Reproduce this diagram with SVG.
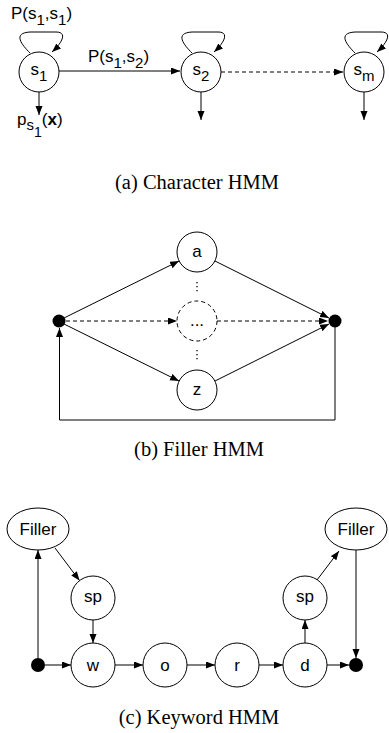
<svg xmlns="http://www.w3.org/2000/svg" width="389" height="733" viewBox="0 0 389 733">
  <defs>
    <marker id="arrow" markerUnits="userSpaceOnUse" markerWidth="10" markerHeight="8" refX="9" refY="3.5" orient="auto">
      <path d="M0,0 L9,3.5 L0,7 z" fill="#000"/>
    </marker>
  </defs>
  <style>
    .node { fill: #fff; stroke: #000; stroke-width: 1; }
    .dnode { fill: #fff; stroke: #000; stroke-width: 1; stroke-dasharray: 4 3; }
    .dot { fill: #000; stroke: none; }
    .edge { fill: none; stroke: #000; stroke-width: 1; marker-end: url(#arrow); }
    .dashed { fill: none; stroke: #000; stroke-width: 1; stroke-dasharray: 4 3; marker-end: url(#arrow); }
    .dotted { fill: none; stroke: #000; stroke-width: 1.3; stroke-dasharray: 1.3 2.7; }
    .lbl { font-family: "Liberation Sans", Arial, sans-serif; font-size: 17px; fill: #000; text-anchor: middle; }
    .elbl { font-family: "Liberation Sans", Arial, sans-serif; font-size: 17px; fill: #000; }
    .sub { font-size: 15px; }
    .sub2 { font-size: 14px; }
    .cap { font-family: "Liberation Serif", "Times New Roman", serif; font-size: 20.5px; fill: #000; text-anchor: middle; }
  </style>

  <!-- (a) Character HMM -->
  <g id="a-s1">
    <circle class="node" cx="39" cy="72" r="20"/>
    <text class="lbl" x="39" y="75">s<tspan class="sub" dy="6">1</tspan></text>
  </g>
  <g id="a-s2">
    <circle class="node" cx="201" cy="72" r="20"/>
    <text class="lbl" x="201" y="75">s<tspan class="sub" dy="6">2</tspan></text>
  </g>
  <g id="a-sm">
    <circle class="node" cx="364" cy="72" r="20"/>
    <text class="lbl" x="364" y="75">s<tspan class="sub" dy="6">m</tspan></text>
  </g>
  <g id="a-connectors">
    <path class="edge" d="M30,53 C22,45 12,33 30,32 L56,32 C68,32 62,43 52,52"/>
    <path class="edge" d="M192,53 C184,45 174,33 192,32 L218,32 C230,32 224,43 214,52"/>
    <path class="edge" d="M355,53 C347,45 337,33 355,32 L381,32 C393,32 387,43 377,52"/>
    <path class="edge" d="M59,71 H180"/>
    <path class="dashed" d="M221,72 H343"/>
    <path class="edge" d="M39,92 V115"/>
    <path class="edge" d="M201,92 V120"/>
    <path class="edge" d="M364,92 V120"/>
  </g>
  <g id="a-labels">
    <text class="elbl" x="11" y="19">P(s<tspan class="sub" dy="6">1</tspan><tspan dy="-6">,s</tspan><tspan class="sub" dy="6">1</tspan><tspan dy="-6">)</tspan></text>
    <text class="elbl" x="88" y="62">P(s<tspan class="sub" dy="6">1</tspan><tspan dy="-6">,s</tspan><tspan class="sub" dy="6">2</tspan><tspan dy="-6">)</tspan></text>
    <text class="elbl" x="17" y="125">p<tspan class="sub" dy="5">s</tspan><tspan class="sub2" dy="7">1</tspan><tspan dy="-12">(</tspan><tspan font-weight="bold">x</tspan>)</text>
  </g>
  <text class="cap" x="197" y="189">(a) Character HMM</text>

  <!-- (b) Filler HMM -->
  <g id="b-start"><circle class="dot" cx="59" cy="321" r="6.5"/></g>
  <g id="b-end"><circle class="dot" cx="335" cy="321" r="6.5"/></g>
  <g id="b-a">
    <circle class="node" cx="197" cy="252" r="20"/>
    <text class="lbl" x="197" y="257">a</text>
  </g>
  <g id="b-mid">
    <circle class="dnode" cx="197" cy="321" r="20"/>
    <text class="lbl" x="197" y="326">...</text>
  </g>
  <g id="b-z">
    <circle class="node" cx="197" cy="390" r="20"/>
    <text class="lbl" x="197" y="395">z</text>
  </g>
  <g id="b-connectors">
    <path class="edge" d="M64,318 L179,261"/>
    <path class="edge" d="M64,324 L179,381"/>
    <path class="dashed" d="M66,321 H177"/>
    <path class="edge" d="M215,261 L329,318"/>
    <path class="edge" d="M215,381 L329,324"/>
    <path class="dashed" d="M217,321 H328"/>
    <path class="edge" d="M335,327 V420 H59.5 V328"/>
    <path class="dotted" d="M197,282 V293"/>
    <path class="dotted" d="M197,350 V361"/>
  </g>
  <text class="cap" x="199" y="456">(b) Filler HMM</text>

  <!-- (c) Keyword HMM -->
  <g id="c-start"><circle class="dot" cx="38" cy="665" r="7"/></g>
  <g id="c-end"><circle class="dot" cx="356" cy="665" r="7"/></g>
  <g id="c-filler1">
    <ellipse class="node" cx="38" cy="529" rx="31" ry="21"/>
    <text class="lbl" x="38" y="535">Filler</text>
  </g>
  <g id="c-sp1">
    <circle class="node" cx="93" cy="598" r="22"/>
    <text class="lbl" x="93" y="602">sp</text>
  </g>
  <g id="c-w">
    <circle class="node" cx="93" cy="665" r="22"/>
    <text class="lbl" x="93" y="671">w</text>
  </g>
  <g id="c-o">
    <circle class="node" cx="165" cy="665" r="22"/>
    <text class="lbl" x="165" y="671">o</text>
  </g>
  <g id="c-r">
    <circle class="node" cx="237" cy="665" r="22"/>
    <text class="lbl" x="237" y="671">r</text>
  </g>
  <g id="c-d">
    <circle class="node" cx="305" cy="665" r="22"/>
    <text class="lbl" x="305" y="671">d</text>
  </g>
  <g id="c-sp2">
    <circle class="node" cx="305" cy="598" r="22"/>
    <text class="lbl" x="305" y="602">sp</text>
  </g>
  <g id="c-filler2">
    <ellipse class="node" cx="356" cy="529" rx="31" ry="21"/>
    <text class="lbl" x="356" y="535">Filler</text>
  </g>
  <g id="c-connectors">
    <path class="edge" d="M38,658 V550"/>
    <path class="edge" d="M55,548 L79.5,580.5"/>
    <path class="edge" d="M93,620 V643"/>
    <path class="edge" d="M45,665 H71"/>
    <path class="edge" d="M115,665 H143"/>
    <path class="edge" d="M187,665 H215"/>
    <path class="edge" d="M259,665 H283"/>
    <path class="edge" d="M327,665 H349"/>
    <path class="edge" d="M305,643 V620"/>
    <path class="edge" d="M317,580 L339,551"/>
    <path class="edge" d="M356,550 V658"/>
  </g>
  <text class="cap" x="199" y="724">(c) Keyword HMM</text>
</svg>
